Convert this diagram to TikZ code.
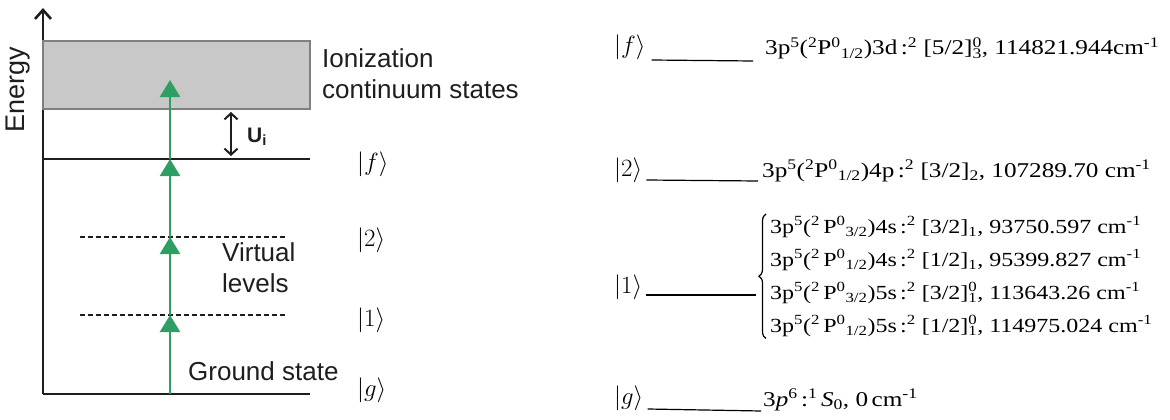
\documentclass[tikz,border=0pt]{standalone}
\usepackage{fontspec}
\setmainfont{Liberation Serif}
\newfontfamily\arialfont{Liberation Sans}
\newfontfamily\rowfont[FakeStretch=1.2]{Liberation Serif}
\usetikzlibrary{arrows.meta, decorations.pathreplacing, calc, positioning}
\definecolor{pumpgreen}{HTML}{2E9E62}
\definecolor{boxgray}{HTML}{C8C8C8}
\definecolor{boxedge}{HTML}{808080}
\definecolor{inkgray}{HTML}{1E1E1E}
\newcommand{\su}[1]{\textsuperscript{#1}}
\newcommand{\lo}[1]{\textsubscript{#1}}
\newcommand{\ud}[2]{\rlap{\textsuperscript{#1}}\textsubscript{#2}}

\begin{document}
\begin{tikzpicture}[
      x=1pt,
      y=-1pt,
      axis/.style={
        -{Straight Barb[length=9pt,width=16pt]},
        line width=2.6pt,
        draw=inkgray
      },
      level/.style={
        line width=2pt,
        draw=inkgray
      },
      virtual/.style={
        dash pattern=on 5pt off 3pt,
        draw=inkgray
      },
      pump/.style={
        -{Triangle[length=17pt,width=20pt]},
        line width=2.4pt,
        draw=pumpgreen
      },
      gap/.style={
        {Straight Barb[length=6pt,width=13pt]}-{Straight Barb[length=6pt,width=13pt]},
        line width=2pt,
        draw=inkgray
      },
      sflabel/.style={
        font=\arialfont\fontsize{26}{31}\selectfont,
        text=inkgray,
        inner sep=0pt,
        align=left
      },
      ket/.style={
        font=\fontsize{24}{28}\selectfont,
        inner sep=0pt,
        anchor=base west
      },
      rowtext/.style={
        font=\rowfont\fontsize{21}{33}\selectfont,
        inner sep=0pt,
        anchor=base west,
        align=left
      },
      rule/.style={
        line width=1.2pt
      }
  ]

    \useasboundingbox (0,0) rectangle (1170,420);

    % Energieachse
    \coordinate (origin) at (43,394);
    \coordinate (axtop) at (43,8);
    \coordinate (axend) at (310,394);
    \draw[axis] (origin) -- (axtop);
    \draw[level] (origin) -- (axend);
    \node[sflabel, font=\arialfont\fontsize{27}{31}\selectfont, rotate=90]
      (energy) at (18,90) {Energy};

    % Kontinuum
    \draw[boxedge, fill=boxgray, line width=1.4pt]
      (43,41) rectangle (310,109);
    \node[sflabel, anchor=base west] (ionlabel) at (322,98)
      {Ionization\\continuum states};

    % Niveaus
    \coordinate (fleft) at (43,159);
    \coordinate (fright) at (310,159);
    \coordinate (twoleft) at (80,237);
    \coordinate (tworight) at (287,237);
    \coordinate (oneleft) at (80,315);
    \coordinate (oneright) at (287,315);
    \draw[level] (fleft) -- (fright);
    \draw[virtual, line width=1.8pt] (twoleft) -- (tworight);
    \draw[virtual, line width=2.6pt] (oneleft) -- (oneright);

    % U_i
    \coordinate (gaptop) at (231,112);
    \coordinate (gapbot) at (231,156);
    \draw[gap] (gaptop) -- (gapbot);
    \node[sflabel, font=\arialfont\bfseries\fontsize{21}{24}\selectfont, anchor=base west]
      (uilabel) at (247,142) {U\lo{i}};

    % Photonen
    \coordinate (pzero) at (170,394);
    \coordinate (pone) at (170,315);
    \coordinate (ptwo) at (170,237);
    \coordinate (pthree) at (170,159);
    \coordinate (pfour) at (170,80);
    \draw[pump] (pzero) -- (pone);
    \draw[pump] (pone) -- (ptwo);
    \draw[pump] (ptwo) -- (pthree);
    \draw[pump] (pthree) -- (pfour);

    \node[sflabel, anchor=base west] (virtlabel) at (222,292)
      {Virtual\\levels};
    \node[sflabel, anchor=base west] (groundlabel) at (188,380)
      {Ground state};

    % Kets links
    \node[ket] (fketl) at (357,170) {$|f\rangle$};
    \node[ket] (twoketl) at (357,246) {$|2\rangle$};
    \node[ket] (oneketl) at (357,326) {$|1\rangle$};
    \node[ket] (gketl) at (357,396) {$|g\rangle$};

    % Zustaende rechts
    \node[ket] (fket) at (614,54) {$|f\rangle$};
    \node[rowtext] (ftxt) at (765,55)
      {3p\su{5}(\su{2}P\su{0}\lo{1/2})3d\,:\su{2} [5/2]\ud{0}{3}, 114821.944cm\su{-1}};
    \draw[rule] ($(fket.base east)+(6,6)$) -- ($(ftxt.base west)+(-12,6)$);

    \node[ket] (twoket) at (614,176) {$|2\rangle$};
    \node[rowtext] (twotxt) at (762,177)
      {3p\su{5}(\su{2}P\su{0}\lo{1/2})4p\,:\su{2} [3/2]\lo{2}, 107289.70 cm\su{-1}};
    \draw[rule] ($(twoket.base east)+(4,4)$) -- ($(twotxt.base west)+(-4,4)$);

    \node[ket] (oneket) at (614,293) {$|1\rangle$};
    \node[rowtext, font=\rowfont\fontsize{20}{33}\selectfont] (onetxt) at (770,332)
      {3p\su{5}(\su{2}\,P\su{0}\lo{3/2})4s\,:\su{2} [3/2]\lo{1}, 93750.597 cm\su{-1}\\
       3p\su{5}(\su{2}\,P\su{0}\lo{1/2})4s\,:\su{2} [1/2]\lo{1}, 95399.827 cm\su{-1}\\
       3p\su{5}(\su{2}\,P\su{0}\lo{3/2})5s\,:\su{2} [3/2]\ud{0}{1}, 113643.26 cm\su{-1}\\
       3p\su{5}(\su{2}\,P\su{0}\lo{1/2})5s\,:\su{2} [1/2]\ud{0}{1}, 114975.024 cm\su{-1}};
    \draw[rule, decorate, decoration={brace, amplitude=7pt}]
      ($(onetxt.south west)+(-4,2)$) -- ($(onetxt.north west)+(-4,-2)$);
    \coordinate (onetip) at (756,295);
    \draw[rule] ($(oneket.base east)+(4,2)$) -- (onetip);

    \node[ket] (gket) at (614,404) {$|g\rangle$};
    \node[rowtext] (gtxt) at (763,406)
      {3\textit{p}\su{6}\,:\su{1}\,\textit{S}\lo{0}, 0\,cm\su{-1}};
    \draw[rule] ($(gket.base east)+(4,5)$) -- ($(gtxt.base west)+(-2,5)$);

  \end{tikzpicture}
\end{document}
